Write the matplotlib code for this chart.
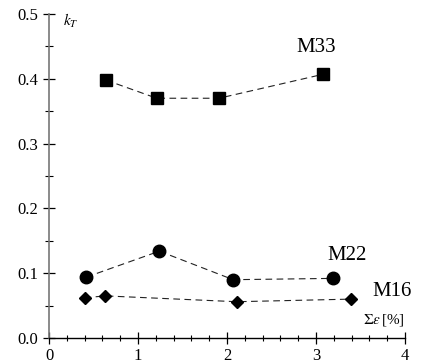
import matplotlib.pyplot as plt
from matplotlib.ticker import MultipleLocator

plt.rcParams['font.family'] = ['Liberation Serif', 'DejaVu Serif']
plt.rcParams['mathtext.fontset'] = 'stix'

# data
m33_x = [0.64, 1.21, 1.91, 3.08]
m33_y = [0.398, 0.370, 0.370, 0.407]
m22_x = [0.42, 1.24, 2.07, 3.19]
m22_y = [0.094, 0.134, 0.090, 0.092]
m16_x = [0.40, 0.63, 2.11, 3.39]
m16_y = [0.062, 0.065, 0.056, 0.060]

fig = plt.figure(figsize=(4.21, 3.6), dpi=100)
ax = fig.add_axes([0.1164, 0.0611, 0.8456, 0.9])

line_kw = dict(color='#222222', linestyle=(0, (6, 4)), linewidth=0.8)
ax.plot(m33_x, m33_y, marker='s', markersize=8.5, markerfacecolor='black',
        markeredgecolor='black', **line_kw)
ax.plot(m22_x, m22_y, marker='o', markersize=9, markerfacecolor='black',
        markeredgecolor='black', **line_kw)
ax.plot(m16_x, m16_y, marker='D', markersize=6.5, markerfacecolor='black',
        markeredgecolor='black', **line_kw)

ax.text(3.0, 0.448, 'M33', fontsize=15, ha='center', va='center')
ax.text(3.35, 0.128, 'M22', fontsize=15, ha='center', va='center')
ax.text(3.86, 0.071, 'M16', fontsize=15, ha='center', va='center')

ax.text(0.16, 0.49, '$k_T$', fontsize=11, ha='left', va='center')
ax.text(4.0, 0.015, r'$\Sigma\varepsilon\,$[%]', fontsize=11, ha='right', va='bottom')

ax.set_xlim(0, 4)
ax.set_ylim(0, 0.5)
ax.xaxis.set_major_locator(MultipleLocator(1))
ax.xaxis.set_minor_locator(MultipleLocator(0.2))
ax.yaxis.set_major_locator(MultipleLocator(0.1))
ax.yaxis.set_minor_locator(MultipleLocator(0.05))
ax.yaxis.set_major_formatter(plt.FormatStrFormatter('%.1f'))

for s in ['top', 'right']:
    ax.spines[s].set_visible(False)
ax.spines['left'].set_color('#777777')
ax.spines['left'].set_linewidth(1.2)
ax.spines['bottom'].set_linewidth(1.0)

ax.tick_params(which='major', direction='inout', length=9, width=0.9, labelsize=12, pad=3)
ax.tick_params(which='minor', direction='inout', length=6, width=0.8)
ax.tick_params(axis='x', which='minor', length=5)

plt.savefig('out.png', dpi=100)
